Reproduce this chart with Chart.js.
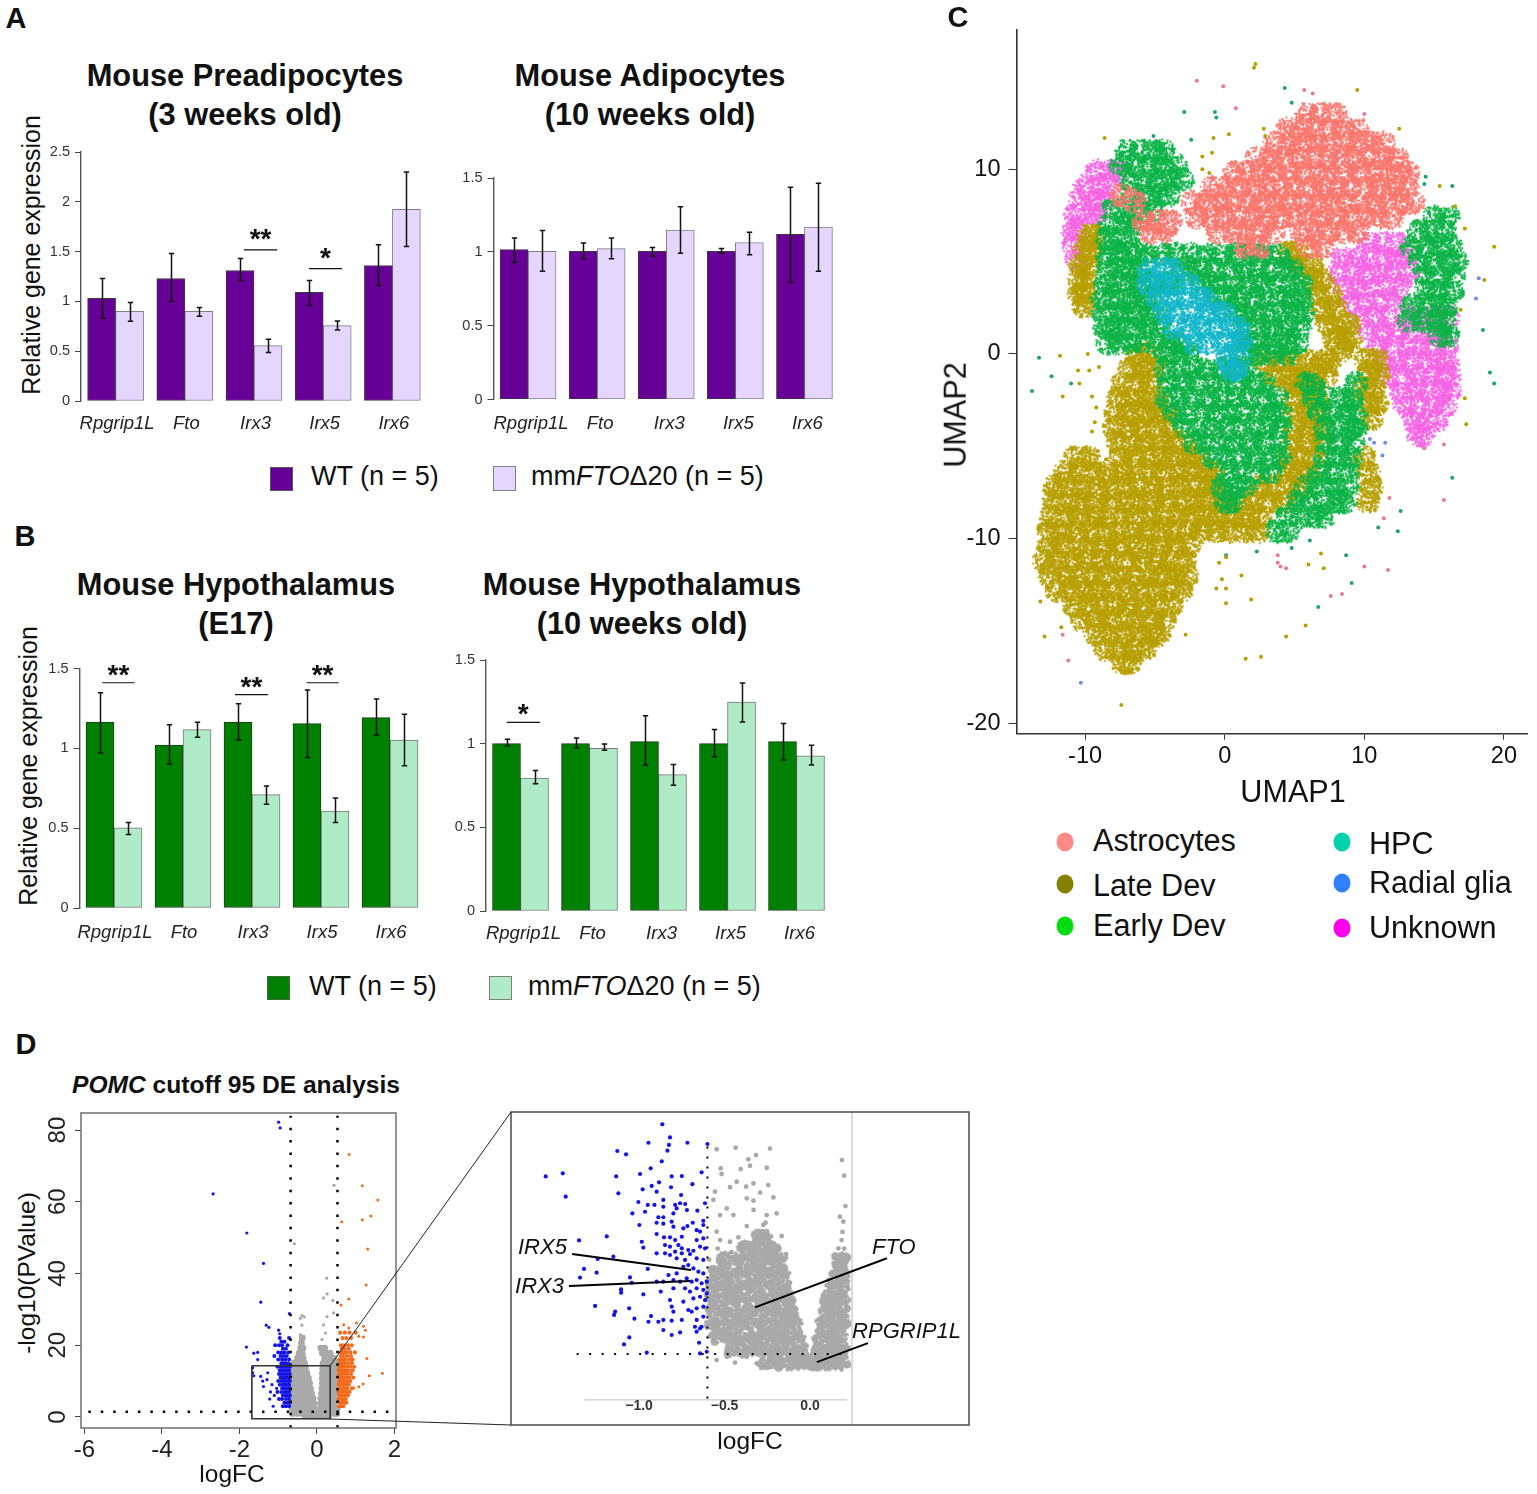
<!DOCTYPE html>
<html><head><meta charset="utf-8"><title>Panels A-D</title>
<script src="https://cdn.jsdelivr.net/npm/chart.js@4/dist/chart.umd.min.js"></script>
<style>
html,body{margin:0;padding:0;background:#fff}
#page{position:relative;width:1537px;height:1494px;font-family:"Liberation Sans",Arial,sans-serif;color:#111;overflow:hidden}
#page canvas{position:absolute}
.t{position:absolute;white-space:nowrap;line-height:1}
.c{transform:translate(-50%,-50%)}
.r{transform:translate(-50%,-50%) rotate(-90deg)}
.m{transform:translateY(-50%)}
.b{font-weight:bold}
.sw{position:absolute;box-sizing:border-box;border:1px solid #777}
.dot{position:absolute;border-radius:50%;transform:translate(-50%,-50%)}
svg{position:absolute;left:0;top:0;pointer-events:none}
</style></head><body><div id="page"></div>
<script>
/* ---------- gene categories & bar values (A, B) ---------- */
const genes=['Rpgrip1L','Fto','Irx3','Irx5','Irx6'];
const a1Ticks=[0,.5,1,1.5,2,2.5], a2Ticks=[0,.5,1,1.5], b1Ticks=[0,.5,1,1.5], b2Ticks=[0,.5,1,1.5];
const a1WT=[1.03,1.23,1.31,1.09,1.36], a1WTHi=[1.23,1.48,1.43,1.21,1.57], a1WTLo=[.83,1.0,1.21,.96,1.16];
const a1KO=[.9,.9,.556,.757,1.925], a1KOHi=[.99,.94,.62,.804,2.3], a1KOLo=[.8,.85,.486,.714,1.55];
const a2WT=[1.015,1.004,1.004,1.004,1.119], a2WTHi=[1.094,1.06,1.029,1.022,1.437], a2WTLo=[.927,.954,.972,.99,.793];
const a2KO=[1.004,1.022,1.147,1.063,1.167], a2KOHi=[1.144,1.094,1.305,1.133,1.464], a2KOLo=[.868,.954,.99,.981,.868];
const b1WT=[1.166,1.022,1.166,1.156,1.193], b1WTHi=[1.35,1.148,1.281,1.367,1.31], b1WTLo=[.972,.901,1.054,.943,1.085];
const b1KO=[.503,1.118,.711,.607,1.052], b1KOHi=[.536,1.164,.764,.689,1.214], b1KOLo=[.461,1.07,.651,.536,.891];
const b2WT=[1.0,1.0,1.012,1.0,1.012], b2WTHi=[1.026,1.034,1.167,1.084,1.12], b2WTLo=[.986,.976,.873,.922,.902];
const b2KO=[.795,.972,.815,1.249,.928], b2KOHi=[.839,.998,.875,1.363,.99], b2KOLo=[.761,.96,.751,1.13,.873];
const a1Sig=[{from:1.855,to:2.336,y:1.518,stars:'**'},{from:2.794,to:3.27,y:1.33,stars:'*'}];
const b1Sig=[{from:-.17,to:.3,y:1.412,stars:'**'},{from:1.754,to:2.23,y:1.337,stars:'**'},{from:2.79,to:3.257,y:1.412,stars:'**'}];
const b2Sig=[{from:-.2,to:.28,y:1.127,stars:'*'}];

/* ---------- UMAP (C): [y, x, x, ...] rows ---------- */
const umapTicksX=[-10,0,10,20], umapTicksY=[-20,-10,0,10];
const umapAstrocytes=[
[13,5.9,6.9,7.9],[12.2,4.5,5.5,6.5,7.5,8.5,9.5],[11.4,3.6,4.6,5.6,6.6,7.6,8.6,9.6,10.6,11.4],
[10.6,2.3,3.3,4.3,5.3,6.3,7.3,8.3,9.3,10.3,11.3,12.3],[9.8,.6,1.6,2.6,3.6,4.6,5.6,6.6,7.6,8.6,9.6,10.6,11.6,12.6,13.1],
[9,-.9,.1,1.1,2.1,3.1,4.1,5.1,6.1,7.1,8.1,9.1,10.1,11.1,12.1,13.1],[8.2,-2.3,-1.3,-.3,.7,1.7,2.7,3.7,4.7,5.7,6.7,7.7,8.7,9.7,10.7,11.7,12.7,13.5],
[7.4,-2,-1,0,1,2,3,4,5,6,7,8,9,10,11,12],[6.6,-.5,.5,1.5,2.5,3.5,5.5,6.5,7.5,8.5,9.5],[5.8,1.5,2.5,6,7],
[7.2,-5.8,-4.8,-3.9],[6.6,-5.3,-4.3],[8.6,-7.4],[8.3,-6.5]];
const umapLateDev=[
[6.4,-9.7,-9.3],[5.6,-10,-9.5],[4.8,-10.3,-9.7],[4,-10.4,-10],[3.2,-10.4,-10],[2.6,-10.1],
[5.5,4.6,5.2],[4.8,5.6,6.3],[4,6.3,7],[3.2,6.7,7.6],[2.4,7,8],[1.6,7.3,8.2,8.9],[.8,7.8,8.6,9],[.2,8.4],
[-.4,3,4,5,6,7,7.5],[-1.2,3.5,4.5,5.5,6.5,7.3],[-.3,10.1,10.9],[-1.1,10.3,11],[-1.9,9.9,10.7],[-2.7,10.3,10.9],[-3.5,10.5],
[0,-6.3,-5.5],[-.8,-6.8,-5.8,-5],[-1.6,-7.3,-6.3,-5.3,4.6,5.6,6.3],[-2.4,-7.6,-6.6,-5.6,-4.9,5,6,6.6],
[-3.2,-7.8,-6.8,-5.8,-4.8,-4.1,5,6,6.7],[-4,-7.9,-6.9,-5.9,-4.9,-3.9,5,6,6.8],[-4.8,-7.6,-6.6,-5.6,-4.6,-3.6,-2.9,5,6,7],
[-5.6,-10.7,-9.7,-7.5,-6.5,-5.5,-4.5,-3.5,-2.5,-1.9,4.5,5.5,6.5,10],
[-6.4,-11.4,-10.4,-9.4,-8.4,-7.4,-6.4,-5.4,-4.4,-3.4,-2.4,-1.4,-.8,4.4,5.4,6,10.3],
[-7.2,-12.2,-11.2,-10.2,-9.2,-8.2,-7.2,-6.2,-5.2,-4.2,-3.2,-2.2,-1.2,-.7,2.5,3.5,4.5,5.5,10.5],
[-8,-12.2,-11.2,-10.2,-9.2,-8.2,-7.2,-6.2,-5.2,-4.2,-3.2,-2.2,-1.2,-.2,.2,1.2,2.2,3.2,4.2,10.3],
[-8.8,-12.4,-11.4,-10.4,-9.4,-8.4,-7.4,-6.4,-5.4,-4.4,-3.4,-2.4,-1.4,-.4,.6,1.5,2.5],
[-9.6,-12.6,-11.6,-10.6,-9.6,-8.6,-7.6,-6.6,-5.6,-4.6,-3.6,-2.6,-1.6,-.6,.4,1.4,2.4],
[-10.4,-12.6,-11.6,-10.6,-9.6,-8.6,-7.6,-6.6,-5.6,-4.6,-3.6,-2.6],
[-11.2,-12.9,-11.9,-10.9,-9.9,-8.9,-7.9,-6.9,-5.9,-4.9,-3.9,-2.9],
[-12,-12.5,-11.5,-10.5,-9.5,-8.5,-7.5,-6.5,-5.5,-4.5,-3.5,-2.7],
[-12.8,-12,-11,-10,-9,-8,-7,-6,-5,-4,-3.1],
[-13.6,-10.8,-9.8,-8.8,-7.8,-6.8,-5.8,-4.8,-3.8],
[-14.4,-10.2,-9.2,-8.2,-7.2,-6.2,-5.2,-4.3],
[-15.2,-9.2,-8.2,-7.2,-6.2,-5.2,-4.7],[-16,-8.5,-7.5,-6.5,-5.7],[-16.7,-7.3,-6.8]];
const umapEarlyDev=[
[11,-7,-6,-5,-4.4],[10.2,-7.4,-6.4,-5.4,-4.4,-3.5],[9.4,-6.7,-5.7,-4.7,-3.7,-3],[8.6,-6.6,-5.6,-4.6,-4],[7.8,-7.1,-6.1,-5.1,-8],
[7,-8.2,-7.2,-6.6],[6.2,-8.5,-7.8,-6.9],[5.4,-8.4,-7.6,-6.8,-6.2,-5.5,-4.5,-3.5,-2.5,-1.2,-.2,.8,1.8,2.8,3.8],
[4.6,-8.4,-7.6,-6.8,-6.1,-3,-2.4,-1.6,-.6,.4,1.4,2.4,3.4,4.4,4.8],[3.8,-8.5,-7.7,-6.9,-6.1,-5.1,-4.1,-3.7,-1.7,-1,-.3,.7,1.7,2.7,3.7,4.7,5.5],
[3,-8.8,-8,-7.2,-6.5,-5.8,-5.3,-.5,.2,1,2,3,4,5,5.5],[2.2,-8.7,-7.9,-7.1,-6.2,-5.4,-4.9,.8,1.4,2.1,3.1,4.1,5.1,5.6],[1.4,-8.6,-7.9,-7.2,-6.4,-5.6,-4.6,1.6,2.4,3.4,4.4,5.4],[.6,-8.4,-7.6,-6.8,-5.8,-4.8,-3.8,-3.2,1.9,2.5,3.5,4.5,5.2],
[0,-4.2,-3.2,-2.5,1.5,2.5,3.5,4.5],[-.8,-4.3,-3.3,-2.3,-1.3,-.3,.7,1.5],[-1.6,-4,-3,-2,-1,0,1,2,2.8,5.9,6.3,9.4],
[-2.4,-4.2,-3.2,-2.2,-1.2,-.2,.8,1.8,2.8,3.8,6.4,7.4,8.4,9.1],[-3.2,-3.6,-2.6,-1.6,-.6,.4,1.4,2.4,3.4,4,6.8,7.8,8.8,9.4],
[-4,-2.9,-1.9,-.9,.1,1.1,2.1,3.1,4,7.1,8.1,9.1,9.4],[-4.8,-2.2,-1.2,-.2,.8,1.8,2.8,3.8,7.3,8.3,9.2],
[-5.6,-.9,.1,1.1,2.1,3.1,4,7.2,8.2,9],[-6.4,.3,1.3,2.3,3.3,6.8,7.8,8.8],[-7.2,-.2,.8,1.5,5.8,6.8,7.8,8.8],
[-8,.1,.5,5.2,6.2,7.2,8.2,8.6],[-8.8,4.5,5.5,6.5,7.1],[-9.6,3.7,4.5],
[7.4,15,16],[6.6,13.8,14.8,15.8],[5.8,13.4,14.4,15.4,16.2],[5,14,15,16,16.6],[4.2,14.4,15.4,16.4],[3.4,14.4,15.4,16.3],
[2.6,13.4,14.4,15.4,15.9],[1.8,13.2,14.2,15.2,15.8],[1,15.4,16]];
const umapHPC=[
[4.6,-5.4,-4.4,-3.8],[3.8,-5.5,-4.5,-3.5,-2.6],[3,-4.8,-3.8,-2.8,-1.8,-1.3],[2.2,-4.3,-3.3,-2.3,-1.3,-.3,0],
[1.4,-3.6,-2.6,-1.6,-.6,.4,1],[.6,-2.2,-1.2,-.2,.8,1.2],[-.2,.1,1],[-.9,.5,.8]];
const umapUnknown=[
[6,10.4,11.4,12.4],[5.2,8.4,9.4,10.4,11.4,12.4,13],[4.4,8.2,9.2,10.2,11.2,12.2,13.2],[3.6,8.6,9.6,10.6,11.6,12.6],[2.8,9,10,11,12],
[2,9.7,10.7,11.7,13,14,15,16],[1.2,10.4,11.4,12.4,13.4,14.4,15.4],[.4,11,12,13,14,15,15.9],[-.4,11.4,12.4,13.4,14.4,15.4,16],
[-1.2,11.8,12.8,13.8,14.8,15.8,16.1],[-2,12.6,13.6,14.6,15.6,16.1],[-2.8,12.9,13.9,14.9,15.8],[-3.6,13.5,14.5,15.2],[-4.4,13.9,14.2],
[9.9,-9.1,-8.2,-7.6],[9.1,-10,-9,-8.3],[8.3,-10.4,-9.4,-8.8],[7.5,-10.7,-9.8,-9.2],[6.7,-10.9,-10.5],[5.9,-10.8],[5.1,-10.6]];
const strayGold=[[2.1,15.5],[2.2,15.7],[9.5,14.3],[-8.6,11.7],[2.8,12.2],[2.9,11.8],[12.5,12.2],[-1.6,10],[-1.6,10.7],[-.8,11.7],[.3,11.9],[-.9,10.9],[-1.1,9.8],[15.4,9.1],[16.5,8],[17.2,6.8],[19.3,5.8],[18.6,4],[16.9,2.4],[-11.8,-.1],[-9.8,0],[-10.5,-.9],[-9.7,-.9],[-9,-.7],[-10.4,-1.6],[-11.6,-2.3],[-9.5,-2.3],[-9.2,-2.9],[-9.3,-3.7],[-9.5,-4.2],[-8.5,-5.7],[-13.2,-13.4],[-11.7,-14.8],[-12.9,-15.3],[-2.8,-15.2],[.1,-11],[-.4,-11.3],[-.2,-12.2],[-.6,-12.7],[.1,-12.7],[.1,-13.5],[1.9,-13.3],[1.2,-12],[6,-11.4],[6.9,-10.8],[7.1,-11.6],[5.8,-14.7],[4.4,-15.3],[1.5,-16.5],[2.6,-16.4],[-7.4,-19],[17.3,-3.8],[17.2,-2.4]];
const strayTeal=[[-13.3,-.2],[-12.4,-1.2],[-11,-1.6],[-13.8,-2],[19,-1],[19.3,-1.6],[16.3,-6.7],[12.6,-8.5],[11,-9.4],[12.4,-9.6],[6.1,-10.1],[4.8,-10.5],[8.7,-10.9],[2.3,-10.7],[.1,-10.9],[9.1,-12.4],[6.7,-13.7],[-2.9,13.1],[-.7,13.1],[-.6,12.8],[4.3,14.4],[4.8,13.6],[-5.1,11.8],[-2.4,11.6],[16.3,9.1],[18.5,1.3],[14.4,9.6],[14.3,9.2]];
const strayPink=[[-2,14.8],[-.1,14.5],[5.7,14.3],[6.3,14.1],[.8,13.3],[10,13],[4,-11.5],[3.8,-11.3],[4.4,-11.6],[3.8,-10.9],[11.8,-7.8],[11.4,-8.9],[11.7,-11.7],[10,-11.5],[8.4,-13],[7.6,-13.1],[15.7,-7.9],[15.7,-4.9],[14.3,-5.1],[-11.6,-15.2],[-11.2,-16.6]];
const strayBlue=[[18.2,4.1],[18,3],[10.7,-4.8],[10.4,-4.6],[11.5,-4.8],[11.3,-5.5],[-10.3,-17.8]];
const umapLegendLeft=['Astrocytes','Late Dev','Early Dev'], umapLegendRight=['HPC','Radial glia','Unknown'];

/* ---------- volcano (D, left) ---------- */
const volTicksX=[-6,-4,-2,0,2], volTicksY=[0,20,40,60,80];
const volCutLeft=-.68, volCutRight=.53, volCutP=1.48, volTop=84, volBottom=-3;
const volZoomBox=[[-1.68,14.3],[.34,14.3],[.34,-.5],[-1.68,-.5],[-1.68,14.3]];
const volBlueSparse=[[-2.68,62.2],[-1.81,51.3],[-1.38,42.8],[-1.45,32],[-.99,82.2],[-.95,80.6],[-.71,28.8],[-1.31,25.6],[-1.24,25],[-.99,24.2],[-.96,23.2],[-1.82,19.5],[-1.63,17.8],[-1.53,18],[-1.53,16],[-1.66,13.7],[-1.66,12.3],[-1.63,11.5],[-1.45,11.3],[-1.27,12.3],[-1.4,10],[-1.38,8.5],[-1.29,10.4],[-1.22,5],[-1.13,3],[-1.1,6],[-1.04,8],[-1.16,9],[-1.2,7]];
const volBlueRows=[[3,-.72,-.8,-.88],[4,-.7,-.76,-.84],[5,-.72,-.8,-.9,-.98],[6,-.7,-.76,-.82,-.88],[7,-.72,-.78,-.84,-.92,-1.02],[8,-.7,-.74,-.8,-.86,-.9],[9,-.72,-.78,-.84,-.88,-.96],[10,-.7,-.74,-.8,-.86,-.92,-1],[11,-.72,-.76,-.82,-.88,-.94],[12,-.7,-.76,-.82,-.86,-.92,-.98],[13,-.72,-.78,-.84,-.9,-.96],[14,-.7,-.76,-.82,-.88,-.94,-1.02],[15,-.74,-.8,-.86,-.92],[16,-.72,-.82,-.9,-1],[17,-.78,-.86,-.94,-1.1],[18,-.74,-.84,-.92,-1],[19,-.8,-.88],[20,-.76,-.9,-.98,-1.08],[21,-.84,-.92],[22,-.72,-.96]];
const volGreySparse=[[-.58,48.3],[.44,64.6],[.25,38.7],[.26,34.3],[.17,33.2],[.41,32.5],[-.39,28.3],[-.33,27.9],[-.43,27.5],[.26,28],[.43,29],[.17,25.7],[-.39,25.6],[.22,23.4],[.13,21.6],[-.43,23],[-.34,22.5]];
const volGreyRows=[[.3,-.3,-.2,-.1,0,.1,.2,.3],[1,-.62,-.5,-.38,-.26,-.14,.02,.08,.2,.32,.44,.52],[2.4,-.64,-.52,-.4,-.28,-.16,-.06,.1,.22,.34,.46,.52],[3.8,-.62,-.5,-.38,-.26,-.14,-.08,.09,.2,.32,.44],[5.2,-.64,-.52,-.4,-.28,-.16,-.1,.1,.22,.34,.46],[6.6,-.62,-.5,-.38,-.26,-.14,.12,.24,.36,.48],[8,-.64,-.52,-.4,-.28,-.17,.13,.25,.37,.49],[9.4,-.62,-.5,-.38,-.26,-.19,.14,.26,.38,.5],[10.8,-.64,-.52,-.4,-.28,-.22,.14,.26,.38,.5],[12.2,-.62,-.5,-.38,-.26,.14,.26,.38,.5],[13.6,-.64,-.52,-.4,-.3,.15,.27,.39,.5],[15,-.6,-.5,-.38,-.32,.16,.28,.4,.5],[16.4,-.5,-.42,-.36,.2,.32,.44],[17.8,-.46,-.38,.14,.24,.34],[19.2,-.42,-.36,.1,.2],[20.6,-.4],[22,-.38]];
const volOrangeSparse=[[.83,73.2],[1.17,64.5],[1.57,60.5],[1.39,56],[1.17,55],[.64,54.4],[1.31,46.8],[1.27,36.8],[.82,32.9],[.62,31.2],[1.02,26.2],[1.2,25.3],[1.25,24.2],[1.08,22.5],[1.2,22.3],[.69,25.7],[.82,24.8],[1.29,16.3],[1.69,12.2],[1.35,11.5],[1.19,9.2],[1.08,8.4],[.95,8.1]];
const volOrangeRows=[[3,.57,.62,.68],[4,.58,.64,.7,.76],[5,.56,.62,.68,.74],[6,.58,.64,.72,.8],[7,.56,.62,.68,.76,.84],[8,.58,.64,.7,.78,.9],[9,.56,.62,.68,.74,.82],[10,.58,.64,.7,.78,.86],[11,.56,.62,.68,.76,.84,.94],[12,.58,.64,.7,.78,.88],[13,.56,.62,.68,.74,.82,.92],[14,.58,.64,.7,.78,.86,.96],[15,.6,.66,.72,.8,.9],[16,.58,.66,.74,.84,.92],[17,.62,.7,.78,.88],[18,.6,.68,.76,.86,.98],[19,.64,.72,.82],[20,.62,.7,.8,.9],[22,.66,.76,.88],[23.5,.6,.72,.84,1]];

/* ---------- volcano inset (D, right) ---------- */
const insetTicks=[-1,-.5,0], insetTickText=['\u22121.0','\u22120.5','0.0'];
const insetCutX=-.6, insetCutP=1.47, insetAxisY=-1.03, insetEdgeX=.246;
const insetBlue=[[-.864,13.95],[-.819,13.24],[-.825,12.83],[-.834,12.52],[-.945,12.95],[-.717,12.95],[-.6,12.88],[-1.127,12.5],[-1.076,12.32],[-.867,11.94],[-.932,11.56],[-1.546,11.12],[-1.446,11.29],[-1.429,10.02],[-1.134,11.12],[-.994,11.25],[-.809,11.12],[-.75,11.14],[-.634,11.34],[-.688,10.7],[-.883,10.8],[-.926,10.6],[-.979,10.42],[-.813,10.53],[-.897,10.29],[-1.121,10.2],[-.754,10.11],[-.858,9.84],[-1.004,9.73],[-.949,9.57],[-.91,9.57],[-.858,9.47],[-.789,9.57],[-.76,9.66],[-.73,9.62],[-.78,9.38],[-.72,9.29],[-.659,9.26],[-.614,9.66],[-1.039,9.11],[-.965,9.2],[-.887,8.9],[-.858,8.9],[-.799,9.11],[-.624,8.71],[-.998,8.48],[-.897,8.6],[-.858,8.55],[-.809,8.66],[-.799,8.39],[-.717,8.42],[-.686,8.6],[-.741,8.3],[-.663,8.2],[-.624,8.48],[-.643,8.12],[-.897,7.99],[-1.189,7.86],[-1.351,7.64],[-.984,7.57],[-.854,7.81],[-.819,7.81],[-.789,7.66],[-.75,7.84],[-.663,7.66],[-.624,7.75],[-.975,7.25],[-.848,7.39],[-.819,7.3],[-.77,7.39],[-.75,7.21],[-.712,7.12],[-.682,7.08],[-.643,7.3],[-.614,7.21],[-.897,6.94],[-.848,6.94],[-.819,6.85],[-.789,7.03],[-.75,6.94],[-.702,6.9],[-1.15,6.76],[-1.242,6.63],[-.78,6.67],[-.731,6.58],[-.663,6.67],[-.624,6.58],[-1.322,6.09],[-1.248,5.89],[-1.345,5.62],[-.949,6.09],[-1.053,5.63],[-.828,5.76],[-.78,5.85],[-.741,6.21],[-.712,6.3],[-.682,6.12],[-.653,5.94],[-.624,5.85],[-1.043,5.34],[-.897,5.4],[-.858,5.4],[-.799,5.49],[-.76,5.4],[-.721,5.58],[-.692,5.4],[-.663,5.49],[-.634,5.31],[-.604,5.4],[-1.105,4.98],[-1.105,4.8],[-.975,4.71],[-.873,4.86],[-.799,5.04],[-.731,5.04],[-.702,4.86],[-.663,5.04],[-.624,4.95],[-.604,4.76],[-1.257,4.08],[-1.14,3.77],[-1.146,3.59],[-1.058,3.95],[-.819,4.4],[-.741,4.31],[-.682,4.49],[-.643,4.58],[-.614,4.4],[-.809,4.04],[-.799,3.77],[-.712,3.86],[-.692,3.77],[-.663,3.95],[-.624,4.04],[-1.027,3.39],[-.93,3.53],[-.945,3.22],[-.887,3.22],[-.858,3.32],[-.809,3.28],[-.75,3.32],[-.663,3.32],[-.624,3.5],[-.673,2.95],[-.643,2.86],[-.858,2.77],[-.76,2.64],[-.809,2.5],[-.663,2.68],[-.634,2.95],[-1.057,2.37],[-1.088,1.99],[-.649,2.08],[-.955,1.54],[-.643,1.5],[-.604,1.59]];
const insetGreySparse=[[-.546,12.59],[-.435,12.68],[-.234,12.63],[-.316,12.28],[-.361,12.05],[-.351,11.7],[-.405,11.52],[-.253,11.59],[-.522,11.56],[-.517,11.25],[.187,12.01],[.2,11.16],[-.429,10.83],[-.331,10.74],[-.244,10.65],[-.374,10.56],[-.468,10.53],[-.556,10.29],[-.292,10.24],[-.565,9.84],[-.37,9.93],[-.331,9.8],[-.214,9.98],[.207,9.51],[-.487,9.38],[-.448,9.02],[-.526,9.02],[-.253,9.02],[-.195,9.11],[.175,8.93],[.195,8.66],[-.37,8.42],[-.273,8.48],[-.253,8.12],[-.546,8.12],[-.419,7.81],[-.166,7.88],[.185,7.66],[-.526,7.66],[-.468,7.57],[.166,7.21],[.195,6.76],[-.117,5.34],[-.546,1.14],[-.487,1.32],[-.439,1],[-.37,1.32],[-.312,.96],[-.59,6.6],[-.54,7.2],[-.46,7],[-.19,7.3],[-.14,6.9],[.2,7.2],[.19,8.1],[-.26,8.6],[-.33,9.3],[-.28,7.9]];
const insetGreyRows=[[1,-.26,-.19,-.12,-.05,0,.05,.1,.15,.19],[1.7,-.46,-.39,-.32,-.25,-.18,-.11,-.05,.05,.11,.17,.19],[2.4,-.55,-.48,-.41,-.34,-.27,-.2,-.13,-.07,.06,.12,.18],[3.1,-.57,-.5,-.43,-.36,-.29,-.22,-.15,-.09,.075,.13,.19],[3.8,-.57,-.5,-.43,-.36,-.29,-.22,-.15,-.11,.09,.14,.19],[4.5,-.57,-.5,-.43,-.36,-.29,-.22,-.15,-.13,.1,.15,.19],[5.2,-.57,-.5,-.43,-.36,-.29,-.22,-.15,.13,.19],[5.9,-.55,-.48,-.41,-.34,-.27,-.2,-.16,.16,.19],[6.6,-.5,-.43,-.36,-.29,-.22,-.18,.17,.19],[7.2,-.38,-.32,-.26,-.22],[7.8,-.3,-.26]];
const insetCallouts=[{t:'IRX5',x:-1.708,y:6.9,x1:-1.392,y1:6.9,x2:-.696,y2:6.03},{t:'IRX3',x:-1.725,y:4.78,x1:-1.41,y1:5.16,x2:-.702,y2:5.43},{t:'FTO',x:.363,y:6.9,x1:.45,y1:6.67,x2:-.322,y2:4},{t:'RPGRIP1L',x:.246,y:2.34,x1:.339,y1:2.06,x2:.04,y2:1.03}];

/* ---------- helpers ---------- */
const FONT='"Liberation Sans", Arial, sans-serif';
const page=document.getElementById('page');
const pairs=a=>a.map(([x,y])=>({x,y}));
const rows=a=>a.flatMap(([y,...xs])=>xs.map(x=>({x,y})));
function txt(s,x,y,cls,css){const d=document.createElement('div');d.className='t '+cls;d.innerHTML=s;d.style.left=x+'px';d.style.top=y+'px';d.style.cssText+=';'+css;page.appendChild(d);return d}
function box(r,fill,border){const d=document.createElement('div');d.className='sw';d.style.cssText=`left:${r[0]}px;top:${r[1]}px;width:${r[2]}px;height:${r[3]}px;background:${fill};border-color:${border}`;page.appendChild(d)}
function dot(x,y,c){const d=document.createElement('div');d.className='dot';d.style.cssText=`left:${x}px;top:${y}px;width:17px;height:19px;background:${c}`;page.appendChild(d)}
function place(rect,plot,cfg){
  const c=document.createElement('canvas');c.width=rect.r-rect.l;c.height=rect.b-rect.t;
  c.style.left=rect.l+'px';c.style.top=rect.t+'px';c.style.width=c.width+'px';c.style.height=c.height+'px';page.appendChild(c);
  const o=cfg.options=cfg.options||{};
  o.responsive=false;o.animation=false;o.maintainAspectRatio=false;
  o.layout={padding:{left:0,top:plot.t-rect.t,right:rect.r-plot.r,bottom:0}};
  o.plugins=Object.assign({legend:{display:false},tooltip:{enabled:false}},o.plugins||{});
  o.scales.x.afterFit=s=>{s.height=rect.b-plot.b;s.paddingLeft=s.paddingRight=s.paddingTop=s.paddingBottom=0};
  o.scales.y.afterFit=s=>{s.width=plot.l-rect.l;s.paddingLeft=s.paddingRight=s.paddingTop=s.paddingBottom=0};
  return new Chart(c,cfg);
}
const tickArr=a=>s=>{s.ticks=a.map(v=>({value:v}))};
/* grainy marker shape: a disc of tiny dots; four variants so the texture does not repeat. Only the marker's look, not data. */
const grainHash=v=>{const s=Math.sin(v)*43758.5453;return s-Math.floor(s)};
function grainSprites(color,R,N,d){return [0,1,2,3].map(k=>{const c=document.createElement('canvas');c.width=c.height=2*R+6;const g=c.getContext('2d');g.fillStyle=color;
  for(let i=0;i<N;i++){const r=R*Math.sqrt(grainHash(i*12.9898+k*78.233)),a=6.2832*grainHash(i*39.346+k*11.135);g.beginPath();g.arc(R+3+r*Math.cos(a),R+3+r*Math.sin(a),d,0,7);g.fill()}return c})}
/* ---------- plugins ---------- */
const errorBars={id:'errorBars',afterDatasetsDraw(ch){const {ctx}=ch,y=ch.scales.y;ctx.save();ctx.strokeStyle='#111';ctx.lineWidth=1.5;
  ch.data.datasets.forEach((d,i)=>{if(!d.errHi)return;ch.getDatasetMeta(i).data.forEach((b,j)=>{const x=Math.round(b.x)+.5,h=y.getPixelForValue(d.errHi[j]),l=y.getPixelForValue(d.errLo[j]);
    ctx.beginPath();ctx.moveTo(x,h);ctx.lineTo(x,l);ctx.moveTo(x-2.7,h);ctx.lineTo(x+2.7,h);ctx.moveTo(x-2.7,l);ctx.lineTo(x+2.7,l);ctx.stroke()})});ctx.restore()}};
const sigMarks={id:'sigMarks',afterDatasetsDraw(ch,a,opts){if(!opts.items)return;const {ctx}=ch,{x,y}=ch.scales;ctx.save();
  opts.items.forEach(s=>{const p1=x.getPixelForValue(s.from),p2=x.getPixelForValue(s.to),py=y.getPixelForValue(s.y);
    ctx.strokeStyle='#111';ctx.lineWidth=1.2;ctx.beginPath();ctx.moveTo(p1,py);ctx.lineTo(p2,py);ctx.stroke();
    ctx.fillStyle='#111';ctx.font='bold 28px '+FONT;ctx.textAlign='center';ctx.textBaseline='alphabetic';ctx.fillText(s.stars,(p1+p2)/2,py+(opts.dy||0))});ctx.restore()}};
const frame={id:'frame',afterDraw(ch,a,opts){if(!opts.color)return;const {ctx,chartArea:c}=ch;ctx.save();ctx.strokeStyle=opts.color;ctx.lineWidth=opts.width||1.5;ctx.strokeRect(c.left,c.top,c.right-c.left,c.bottom-c.top);ctx.restore()}};
const rotTicks={id:'rotTicks',afterDraw(ch,a,opts){if(!opts.values)return;const {ctx}=ch,y=ch.scales.y;ctx.save();ctx.fillStyle='#222';ctx.font=opts.font;ctx.textAlign='center';ctx.textBaseline='middle';
  opts.values.forEach(v=>{ctx.save();ctx.translate(y.left+y.width-opts.gap,y.getPixelForValue(v));ctx.rotate(-Math.PI/2);ctx.fillText(String(v),0,0);ctx.restore()});ctx.restore()}};
const insetMarks={id:'insetMarks',afterDraw(ch,a,opts){if(!opts.callouts)return;const {ctx}=ch,{x,y}=ch.scales;ctx.save();
  ctx.fillStyle='#333';ctx.font='bold 14px '+FONT;ctx.textAlign='center';ctx.textBaseline='middle';
  opts.ticks.forEach((v,i)=>ctx.fillText(opts.tickText[i],x.getPixelForValue(v),y.getPixelForValue(opts.axisY)+6.5));
  ctx.fillStyle='#111';ctx.strokeStyle='#000';ctx.lineWidth=2;ctx.textAlign='left';ctx.textBaseline='alphabetic';ctx.font='italic 22px '+FONT;
  opts.callouts.forEach(c=>{ctx.fillText(c.t,x.getPixelForValue(c.x),y.getPixelForValue(c.y));ctx.beginPath();ctx.moveTo(x.getPixelForValue(c.x1),y.getPixelForValue(c.y1));ctx.lineTo(x.getPixelForValue(c.x2),y.getPixelForValue(c.y2));ctx.stroke()});ctx.restore()}};
Chart.register(errorBars,sigMarks,frame,rotTicks,insetMarks);

function barChart(rect,plot,ticks,wt,wtHi,wtLo,ko,koHi,koLo,pal,sig,dy,pad,off){
  const top=ticks[ticks.length-1];
  return place(rect,plot,{type:'bar',data:{labels:genes,datasets:[
    {label:'WT (n = 5)',data:wt,errHi:wtHi,errLo:wtLo,backgroundColor:pal[0],borderColor:pal[1],borderWidth:1,barThickness:28,borderSkipped:false},
    {label:'mmFTO\u039420 (n = 5)',data:ko,errHi:koHi,errLo:koLo,backgroundColor:pal[2],borderColor:pal[3],borderWidth:1,barThickness:28,borderSkipped:false}]},
   options:{plugins:{sigMarks:{items:sig,dy:dy}},scales:{
    x:{border:{display:false},grid:{display:false,drawTicks:false},ticks:{color:'#222',font:{family:FONT,size:18.5,style:'italic'},padding:pad,labelOffset:off,autoSkip:false,maxRotation:0}},
    y:{min:0,max:top,afterBuildTicks:tickArr(ticks),border:{color:'#555',width:1.4},grid:{drawOnChartArea:false,tickLength:6,tickColor:'#444'},
       ticks:{color:'#333',font:{family:FONT,size:14.5},padding:5,callback:v=>String(v)}}}}});
}
const purple=['#660096','#3a3a3a','#E4D6FE','#808080'], green=['#008000','#1d3b1d','#B0EBC8','#777'];
barChart({l:45,t:140,r:440,b:445},{l:81,t:152,r:427,b:401},a1Ticks,a1WT,a1WTHi,a1WTLo,a1KO,a1KOHi,a1KOLo,purple,a1Sig,-2,12,1.5);
barChart({l:450,t:165,r:850,b:445},{l:493.5,t:178,r:839,b:399.5},a2Ticks,a2WT,a2WTHi,a2WTLo,a2KO,a2KOHi,a2KOLo,purple,[],0,13,3);
barChart({l:45,t:655,r:440,b:955},{l:79.5,t:668.7,r:424.5,b:908},b1Ticks,b1WT,b1WTHi,b1WTLo,b1KO,b1KOHi,b1KOLo,green,b1Sig,1,14,1);
barChart({l:445,t:650,r:845,b:955},{l:486,t:660,r:831,b:911},b2Ticks,b2WT,b2WTHi,b2WTLo,b2KO,b2KOHi,b2KOLo,green,b2Sig,1,12,3);

/* UMAP */
const big=(label,rowsData,color,N)=>{const sp=grainSprites(color,12,N,1.1);return {label,data:rows(rowsData),backgroundColor:color,borderWidth:0,pointRadius:9.5,
  pointStyle:c=>sp[c.dataIndex%4],pointRotation:c=>c.dataIndex*97}};
const small=(label,d,color)=>({label,data:pairs(d),backgroundColor:color,borderWidth:0,pointRadius:2});
const umapBorder={color:'#333',width:1.6};
place({l:950,t:20,r:1537,b:790},{l:1016.5,t:29,r:1530,b:733.7},{type:'scatter',data:{datasets:[
  small('Late Dev outliers',strayGold,'#B79F00'),small('Early Dev outliers',strayTeal,'#1FA07A'),small('Astrocytes outliers',strayPink,'#E47AA0'),small('Radial glia outliers',strayBlue,'#6F8FEF'),
  big('HPC',umapHPC,'#12B6C9',105),big('Astrocytes',umapAstrocytes,'#F8766D',115),big('Early Dev',umapEarlyDev,'#0CB347',120),big('Late Dev',umapLateDev,'#B79F00',140),big('Unknown',umapUnknown,'#F564E3',100)]},
 options:{scales:{
  x:{type:'linear',min:-14.91,max:21.69,afterBuildTicks:tickArr(umapTicksX),ticks:{color:'#111',font:{family:FONT,size:23.5},padding:3,autoSkip:false,maxRotation:0},border:umapBorder,grid:{drawOnChartArea:false,tickColor:'#333',tickLength:6}},
  y:{min:-20.56,max:17.57,afterBuildTicks:tickArr(umapTicksY),ticks:{color:'#111',font:{family:FONT,size:23.5},padding:8},border:umapBorder,grid:{drawOnChartArea:false,tickColor:'#333',tickLength:8}}}}});

/* Volcano */
const vline=(label,x,y0,y1,dash,w)=>({label,type:'scatter',showLine:true,data:[{x,y:y0},{x,y:y1}],borderColor:'#000',borderWidth:w,borderDash:dash,pointRadius:0,fill:false});
const hline=(label,y,x0,x1,dash,w,col)=>({label,type:'scatter',showLine:true,data:[{x:x0,y},{x:x1,y}],borderColor:col||'#000',borderWidth:w,borderDash:dash,pointRadius:0,fill:false});
const mk=(label,data,color,r)=>({label,data,backgroundColor:color,borderWidth:0,pointRadius:r});
place({l:40,t:1105,r:405,b:1468},{l:81,t:1113,r:396,b:1428},{type:'scatter',data:{datasets:[
  {label:'zoom box',showLine:true,data:pairs(volZoomBox),borderColor:'#333',borderWidth:1.6,pointRadius:0,fill:false},
  vline('left cut',volCutLeft,volBottom,volTop,[2.5,9.9],2.5),vline('right cut',volCutRight,volBottom,volTop,[2.5,9.9],2.5),hline('p cut',volCutP,-5.9,2,[2.5,9.9],2.5),
  mk('Down',pairs(volBlueSparse),'#1414E6',1.6),mk('Down dense',rows(volBlueRows),'#1414E6',2),
  mk('Up',pairs(volOrangeSparse),'#F26B1D',1.5),mk('Up dense',rows(volOrangeRows),'#F26B1D',2.1),
  mk('NS',pairs(volGreySparse),'#A9A9A9',1.6),mk('NS dense',rows(volGreyRows),'#A9A9A9',3.4)]},
 options:{plugins:{frame:{color:'#777',width:1.6},rotTicks:{values:volTicksY,font:'24px '+FONT,gap:23}},scales:{
  x:{type:'linear',min:-6.09,max:2.04,afterBuildTicks:tickArr(volTicksX),border:{display:false},grid:{drawOnChartArea:false,tickColor:'#444',tickLength:6},ticks:{color:'#222',font:{family:FONT,size:24},padding:2,autoSkip:false,maxRotation:0}},
  y:{min:-3.07,max:84.75,afterBuildTicks:tickArr(volTicksY),border:{display:false},grid:{drawOnChartArea:false,tickColor:'#444',tickLength:6},ticks:{display:false}}}}});

/* Inset */
const greySp=grainSprites('#A9A9A9',7.5,48,1.9);
place({l:501,t:1102,r:979,b:1435},{l:511,t:1112,r:969,b:1425},{type:'scatter',data:{datasets:[
  vline('cut x',insetCutX,-.95,13,[2,8],2),hline('cut p',insetCutP,-1.365,.214,[2,10.5],2),
  hline('inner axis',insetAxisY,-1.32,.216,[],1.2,'#C9C9C9'),
  {label:'edge',type:'scatter',showLine:true,data:[{x:insetEdgeX,y:-2.39},{x:insetEdgeX,y:14.62}],borderColor:'#CFCFCF',borderWidth:1.5,pointRadius:0},
  mk('Down',pairs(insetBlue),'#1414E6',2.1),mk('NS',pairs(insetGreySparse),'#A9A9A9',2.4),
  {label:'NS dense',data:rows(insetGreyRows),backgroundColor:'#A9A9A9',borderWidth:0,pointRadius:6.5,pointStyle:c=>greySp[c.dataIndex%4],pointRotation:c=>c.dataIndex*97}]},
 options:{plugins:{frame:{color:'#555',width:1.6},insetMarks:{callouts:insetCallouts,ticks:insetTicks,tickText:insetTickText,axisY:insetAxisY}},scales:{
  x:{type:'linear',min:-1.749,max:.93,display:false},y:{min:-2.39,max:14.62,display:false}}}});

/* ---------- text, legends ---------- */
[['A',16,18],['B',25,536],['C',958,17],['D',26,1044]].forEach(([s,x,y])=>txt(s,x,y,'c b','font-size:29px'));
[['Mouse Preadipocytes',245,76],['(3 weeks old)',245,115],['Mouse Adipocytes',650,76],['(10 weeks old)',650,115],['Mouse Hypothalamus',236,585],['(E17)',236,624],['Mouse Hypothalamus',642,585],['(10 weeks old)',642,624]]
  .forEach(([s,x,y])=>txt(s,x,y,'c b','font-size:30.8px'));
txt('Relative gene expression',31,255,'r','font-size:24.9px');
txt('Relative gene expression',28,766,'r','font-size:24.9px');
box([270,467,23,24],'#660096','#555');box([493,466,23,25],'#E4D6FE','#808080');
txt('WT (n = 5)',311,476,'m','font-size:27px');txt('mm<i>FTO</i>\u039420 (n = 5)',531,476,'m','font-size:27px');
box([267,976,23,24],'#008000','#3b6b3b');box([489,976,23,24],'#B0EBC8','#808080');
txt('WT (n = 5)',309,986,'m','font-size:27px');txt('mm<i>FTO</i>\u039420 (n = 5)',528,986,'m','font-size:27px');
txt('UMAP1',1293,791,'c','font-size:30.6px');txt('UMAP2',955,415,'r','font-size:30.6px');
const legL=[842,884,926],legR=[842,883,928],colL=['#FF8A87','#858100','#00DC10'],colR=['#00D2AE','#2E80FF','#FF00EE'];
umapLegendLeft.forEach((s,i)=>{dot(1065,legL[i],colL[i]);txt(s,1093,[840,885,925][i],'m','font-size:30.6px')});
umapLegendRight.forEach((s,i)=>{dot(1342,legR[i],colR[i]);txt(s,1369,[843,882,927][i],'m','font-size:30.6px')});
txt('<i>POMC</i> cutoff 95 DE analysis',72,1085,'m b','font-size:24.6px');
txt('-log10(PValue)',27,1273,'r','font-size:24.5px');txt('logFC',232,1474,'c','font-size:24.5px');txt('logFC',750,1441,'c','font-size:24.5px');
const ns='http://www.w3.org/2000/svg',svg=document.createElementNS(ns,'svg');svg.setAttribute('width',1537);svg.setAttribute('height',1494);
[[330,1366,511,1112],[330,1419,511,1425]].forEach(a=>{const l=document.createElementNS(ns,'line');['x1','y1','x2','y2'].forEach((k,i)=>l.setAttribute(k,a[i]));l.setAttribute('stroke','#222');l.setAttribute('stroke-width','1');svg.appendChild(l)});
page.appendChild(svg);
</script></body></html>
